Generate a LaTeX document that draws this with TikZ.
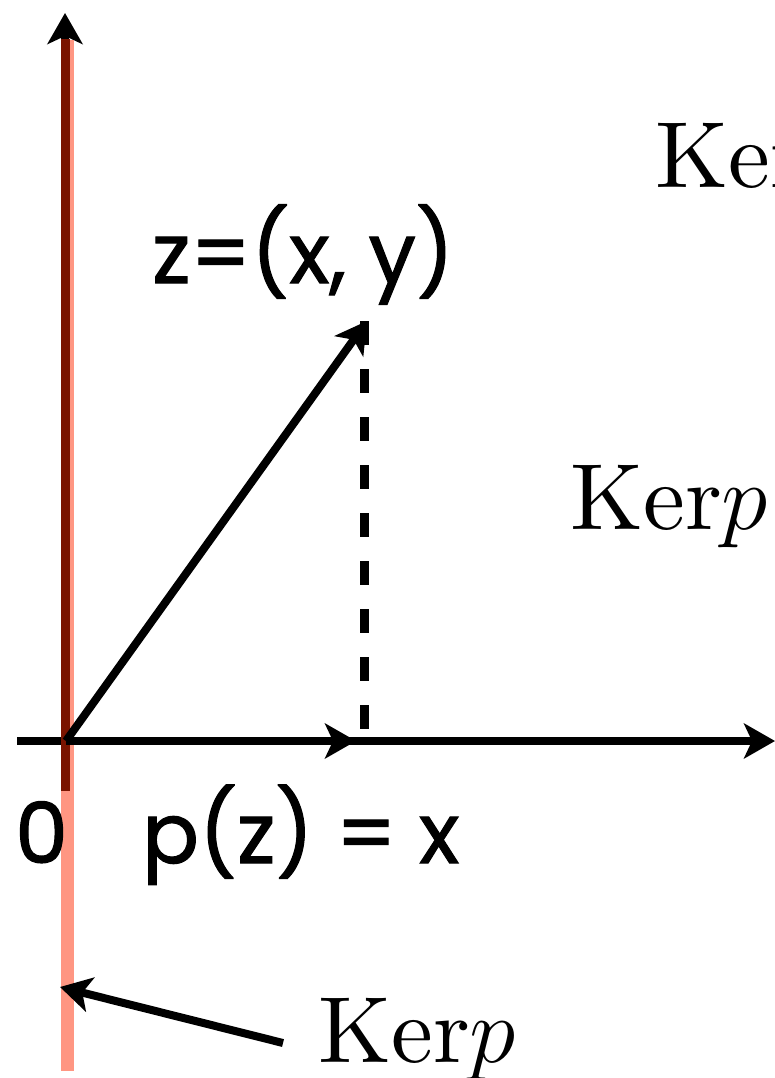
\RequirePackage{fix-cm}
\documentclass[tikz,border=0pt]{standalone}
\usepackage{fontspec}
\newfontfamily\labelfont{Poppins}[FakeBold=1.3]
\newfontfamily\lmten{lmroman10-regular.otf}
\usetikzlibrary{arrows.meta}
\definecolor{darkred}{RGB}{122,20,0}
\definecolor{salmon}{RGB}{255,150,130}
\tikzset{
  blk/.style={line width=8pt, draw=black},
  tip/.style={-{Stealth[length=31pt,width=35pt,inset=8pt]}},
  sanslbl/.style={inner sep=0pt, anchor=base west, font=\labelfont\fontsize{84}{100}\selectfont},
  serlbl/.style={inner sep=0pt, anchor=base west, font=\lmten\fontsize{94}{110}\selectfont},
}
\begin{document}
\begin{tikzpicture}[x=1pt,y=-1pt]
\useasboundingbox (0,0) rectangle (775,1078);
\clip (0,0) rectangle (775,1078);
% coordinates
\coordinate (O) at (66,741);
\coordinate (ytop) at (65,13);
\coordinate (ybot) at (65,60);
\coordinate (xleft) at (17,741);
\coordinate (xright) at (775,741);
\coordinate (px) at (356,741);
\coordinate (Z) at (367,321);
\coordinate (dtop) at (364.5,321);
\coordinate (dbot) at (364.5,729);
\coordinate (sTop) at (67.5,40);
\coordinate (sBot) at (67.5,1071);
\coordinate (rTop) at (65.5,39);
\coordinate (rBot) at (65.5,791);
\coordinate (kerTip) at (60,987);
\coordinate (kerTail) at (283,1043);
% axes
\draw[blk,tip] (ybot) -- (ytop);
\draw[blk,tip] (xleft) -- (xright);
% kernel lines
\draw[draw=salmon, line width=13pt] (sTop) -- (sBot);
\draw[draw=darkred, line width=9pt] (rTop) -- (rBot);
% vectors
\draw[blk,tip] (O) -- (px);
\draw[blk,tip] (O) -- (Z);
\draw[line width=8.5pt, dash pattern=on 24pt off 24pt] (dtop) -- (dbot);
% labels
\node[sanslbl] (zlbl) at (152,283) {z=(x, y)};
\node[sanslbl] (zero) at (15,863) {0};
\node[sanslbl] (pz) at (142,863) {p(z) = x};
\node[serlbl] (kertop) at (655,188) {Ker$p$};
\node[serlbl] (kermid) at (570,529) {Ker$p$};
\node[serlbl] (kerbot) at (318,1062) {Ker$p$};
% pointer arrow
\draw[blk,tip] (kerTail) -- (kerTip);
\end{tikzpicture}
\end{document}
